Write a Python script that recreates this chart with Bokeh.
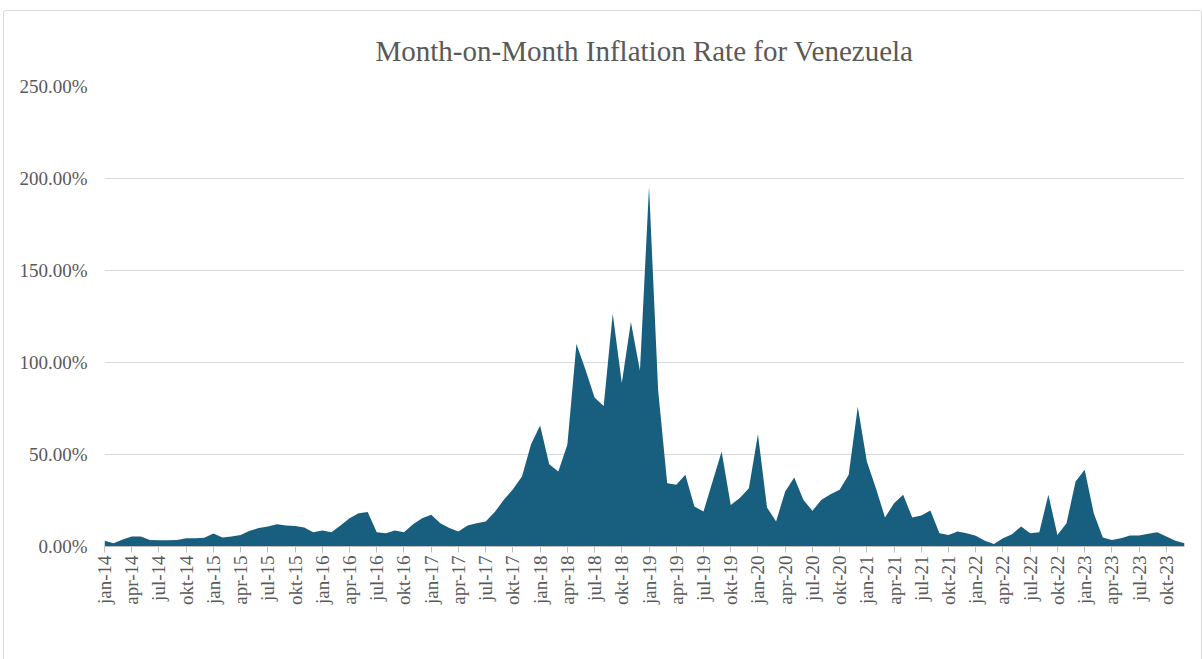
import math
from bokeh.plotting import figure
from bokeh.models import (ColumnDataSource, FixedTicker, PrintfTickFormatter,
                          Legend, LegendItem, Range1d)
from bokeh.embed import file_html
from bokeh.resources import INLINE

# ---- data (percent, monthly Jan 2014 .. Dec 2023) ----
months_nl = ["jan", "feb", "mar", "apr", "mei", "jun", "jul", "aug", "sep", "okt", "nov", "dec"]
years = list(range(2014, 2024))
month_labels = [f"{m}-{str(y)[2:]}" for y in years for m in months_nl]

rate_2014 = [3.1, 1.8, 3.8, 5.4, 5.4, 3.6, 3.4, 3.4, 3.6, 4.5, 4.5, 4.8]
rate_2015 = [7.1, 4.9, 5.4, 6.3, 8.5, 10.0, 10.9, 12.1, 11.4, 11.2, 10.3, 7.8]
rate_2016 = [8.7, 7.8, 11.4, 15.4, 18.1, 18.7, 7.8, 7.2, 8.7, 7.8, 12.1, 15.4]
rate_2017 = [17.2, 12.7, 10.0, 8.2, 11.4, 12.7, 13.6, 18.7, 25.4, 31.1, 38.0, 55.6]
rate_2018 = [65.8, 44.7, 40.8, 55.3, 110.0, 96.0, 81.0, 76.3, 126.5, 88.8, 122.0, 95.5]
rate_2019 = [195.6, 85.0, 34.4, 33.5, 39.0, 21.7, 19.0, 35.3, 51.6, 22.6, 26.3, 31.7]
rate_2020 = [61.0, 21.2, 13.6, 29.9, 37.5, 25.4, 19.4, 25.4, 28.4, 30.8, 39.0, 76.0]
rate_2021 = [46.2, 31.7, 15.8, 23.5, 28.1, 15.8, 16.8, 19.6, 7.2, 6.3, 8.2, 7.2]
rate_2022 = [5.8, 3.1, 1.4, 4.5, 6.7, 10.9, 7.2, 7.8, 28.1, 6.3, 12.7, 35.3]
rate_2023 = [41.7, 18.1, 4.9, 3.6, 4.5, 6.0, 6.0, 6.9, 7.8, 5.4, 3.1, 1.8]

rates = (rate_2014 + rate_2015 + rate_2016 + rate_2017 + rate_2018 +
         rate_2019 + rate_2020 + rate_2021 + rate_2022 + rate_2023)
idx = list(range(len(rates)))

y_ticks = [0, 50, 100, 150, 200, 250]
series_name = "Month-on-Month Inflation Rate for Venezuela"
title_text = "Month-on-Month Inflation Rate for Venezuela"

FONT = "Liberation Serif"
GREY = "#595959"
FILL = "#185e7e"

src = ColumnDataSource(dict(x=idx, y=rates, y0=[0] * len(rates)))

p = figure(frame_width=1080, frame_height=460, output_backend="svg", toolbar_location=None,
           x_range=Range1d(0, len(rates) - 1), y_range=Range1d(0, 250),
           min_border_left=100, min_border_right=17, min_border_top=75,
           min_border_bottom=0)
p.margin = (10, 0, 0, 3)
p.styles = {"border": "1px solid #d9d9d9", "border-radius": "3px"}
p.outline_line_color = None
p.background_fill_color = "white"
p.border_fill_color = "white"

r = p.varea(x="x", y1="y0", y2="y", source=src, fill_color=FILL)

p.title.text = title_text
p.title.align = "center"
p.title.text_font = FONT
p.title.text_font_size = "29px"
p.title.text_font_style = "normal"
p.title.text_color = GREY
p.title.standoff = 40

# y axis
p.yaxis.ticker = FixedTicker(ticks=y_ticks)
p.yaxis.formatter = PrintfTickFormatter(format="%.2f%%")
p.yaxis.axis_line_color = None
p.yaxis.major_tick_line_color = None
p.yaxis.minor_tick_line_color = None
p.yaxis.major_label_text_font = FONT
p.yaxis.major_label_text_font_size = "19px"
p.yaxis.major_label_text_color = GREY
p.yaxis.major_label_standoff = 11

# x axis
tick_pos = list(range(0, len(rates), 3))
p.xaxis.ticker = FixedTicker(ticks=tick_pos)
p.xaxis.major_label_overrides = {i: month_labels[i] for i in tick_pos}
p.xaxis.major_label_orientation = math.pi / 2
p.xaxis.major_label_text_font = FONT
p.xaxis.major_label_text_font_size = "19px"
p.xaxis.major_label_text_color = GREY
p.xaxis.axis_line_color = "#bfbfbf"
p.xaxis.major_tick_line_color = "#bfbfbf"
p.xaxis.major_tick_in = 0
p.xaxis.major_tick_out = 6
p.xaxis.minor_tick_line_color = None
p.xaxis.major_label_standoff = 3
p.xaxis.axis_label = None

p.xgrid.grid_line_color = None
p.ygrid.grid_line_color = "#d9d9d9"
p.ygrid.grid_line_width = 1

legend = Legend(items=[LegendItem(label=series_name, renderers=[r])],
                location="top_center", orientation="horizontal",
                border_line_color=None, background_fill_alpha=0,
                label_text_font=FONT, label_text_font_size="19px",
                label_text_color=GREY, glyph_width=10, glyph_height=10,
                label_height=19, padding=0, margin=0, spacing=0,
                label_standoff=4)
p.add_layout(legend, "below")

open("out.html", "w").write(file_html(p, INLINE))
